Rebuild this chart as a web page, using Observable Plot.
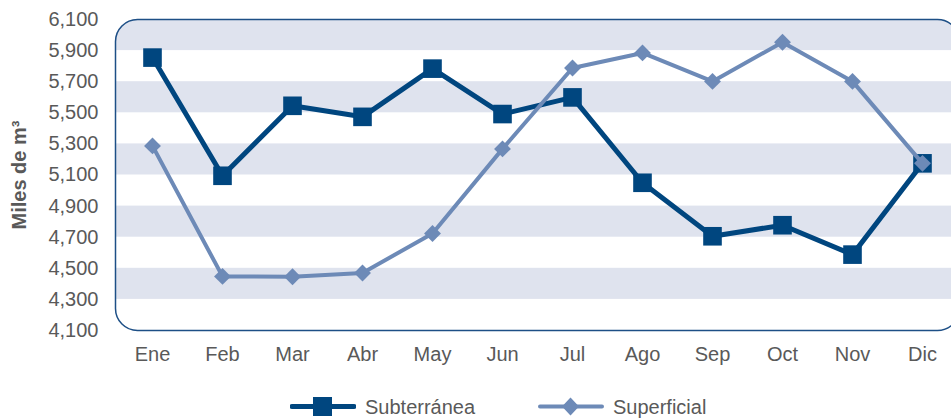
<!DOCTYPE html>
<html><head><meta charset="utf-8">
<script src="https://cdn.jsdelivr.net/npm/d3@7"></script>
<script src="https://cdn.jsdelivr.net/npm/@observablehq/plot@0.6"></script>
<style>
body{margin:0;background:#fff;overflow:hidden;font-family:"Liberation Sans",Arial,sans-serif;}
#chart text{font-size:20px;}
#legend{position:relative;height:38px;width:951px;margin-top:6px;}
.item{position:absolute;top:0;height:38px;display:flex;align-items:center;font-size:20px;color:#595959;}
.item svg{margin-right:9px;}
</style></head><body>
<div id="chart"></div>
<div id="legend"></div>
<script>
const months = ["Ene","Feb","Mar","Abr","May","Jun","Jul","Ago","Sep","Oct","Nov","Dic"];
const subterranea = [5855,5095,5545,5474,5784,5492,5599,5050,4706,4777,4588,5175];
const superficial = [5287,4448,4446,4470,4724,5268,5788,5885,5702,5954,5702,5175];
const yTicks = [4100,4300,4500,4700,4900,5100,5300,5500,5700,5900,6100];
const seriesNames = ["Subterránea","Superficial"];
const colors = ["#00467f","#6d8ab7"];

const bands = [];
for (let i = 1; i < yTicks.length - 1; i += 2) bands.push([yTicks[i], yTicks[i+1]]);
const subData = months.map((m,i)=>({month:m, value:subterranea[i]}));
const supData = months.map((m,i)=>({month:m, value:superficial[i]}));

const chart = Plot.plot({
  width: 951, height: 382,
  marginLeft: 115, marginRight: -8, marginTop: 19, marginBottom: 52,
  style: {fontFamily: '"Liberation Sans", Arial, sans-serif', fontSize: "20px", color: "#595959", background: "white"},
  x: {type: "point", domain: months, padding: 0.5},
  y: {domain: [4100, 6100]},
  marks: [
    Plot.rect(bands, {y1: d=>d[0], y2: d=>d[1], fill: "#dfe3ee"}),
    Plot.frame({stroke: "#1d4f86", strokeWidth: 1.5, rx: 22, ry: 22}),
    Plot.axisX({tickSize: 0, tickPadding: 16, label: null}),
    Plot.axisY({ticks: yTicks, tickFormat: d3.format(","), tickSize: 0, tickPadding: 17, label: "Miles de m³", labelAnchor: "center", labelArrow: "none", labelOffset: 104}),
    Plot.line(subData, {x: "month", y: "value", stroke: colors[0], strokeWidth: 5}),
    Plot.dot(subData, {x: "month", y: "value", symbol: "square", r: 10.5, fill: colors[0]}),
    Plot.line(supData, {x: "month", y: "value", stroke: colors[1], strokeWidth: 4}),
    Plot.dot(supData, {x: "month", y: "value", symbol: "diamond2", r: 7.6, fill: colors[1]})
  ]
});
document.getElementById("chart").appendChild(chart);

// rounded clip for the background bands
const ns = "http://www.w3.org/2000/svg";
const defs = document.createElementNS(ns, "defs");
const cp = document.createElementNS(ns, "clipPath");
cp.setAttribute("id", "roundclip");
const rr = document.createElementNS(ns, "rect");
rr.setAttribute("x", 115); rr.setAttribute("y", 19);
rr.setAttribute("width", 844); rr.setAttribute("height", 311);
rr.setAttribute("rx", 22);
cp.appendChild(rr); defs.appendChild(cp); chart.insertBefore(defs, chart.firstChild);
const rg = chart.querySelector('g[aria-label="rect"]');
if (rg) rg.setAttribute("clip-path", "url(#roundclip)");
const lab = chart.querySelector('g[aria-label="y-axis label"]');
if (lab) { lab.style.fontWeight = "bold"; }

// legend
const legend = document.getElementById("legend");
const lefts = [290, 538];
seriesNames.forEach((name, i) => {
  const d = document.createElement("div");
  d.className = "item";
  d.style.left = lefts[i] + "px";
  const sym = i === 0
    ? `<rect x="23" y="9" width="19" height="19" fill="${colors[0]}"/>`
    : `<path d="M32.5,9.5 L41,18.5 L32.5,27.5 L24,18.5Z" fill="${colors[1]}"/>`;
  d.innerHTML = `<svg width="66" height="38"><line x1="2" x2="64" y1="18.5" y2="18.5" stroke="${colors[i]}" stroke-width="${i===0?5:4}" stroke-linecap="round"/>${sym}</svg><span>${name}</span>`;
  legend.appendChild(d);
});
</script>
</body></html>
